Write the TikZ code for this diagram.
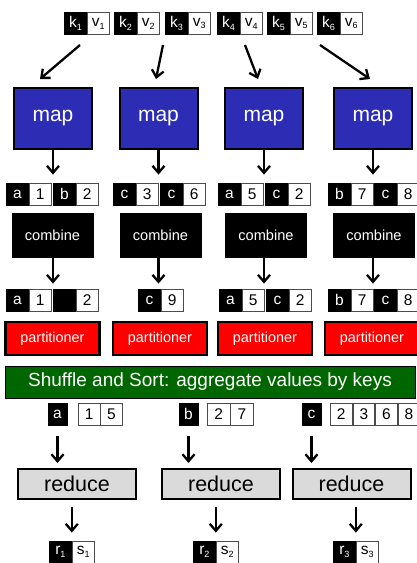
\documentclass[tikz,border=0pt]{standalone}
\usepackage{fontspec}
\setmainfont{Liberation Sans}
\usetikzlibrary{arrows.meta}
\definecolor{mapblue}{RGB}{44,44,180}
\definecolor{shgreen}{RGB}{0,102,0}
\definecolor{redgray}{RGB}{218,218,218}
\newcommand{\sbs}[1]{\raisebox{-0.35ex}{\fontsize{9}{9}\selectfont#1}}
\newcommand{\kvpair}[5]{%
  \node[kbox, anchor=west] (#1k) at (#2,#3) {#4};
  \node[vbox, anchor=west] (#1v) at (#1k.east) {#5};}
\begin{document}
\begin{tikzpicture}[x=1pt,y=-1pt,
  kbox/.style={rectangle, fill=black, draw=black, line width=0.8pt, text=white,
    minimum width=22pt, minimum height=22pt, inner sep=0pt, font=\fontsize{15.5}{15.5}\selectfont},
  vbox/.style={rectangle, fill=white, draw=black!70, line width=0.8pt, text=black,
    minimum width=22pt, minimum height=22pt, inner sep=0pt, font=\fontsize{15.5}{15.5}\selectfont},
  mapbox/.style={rectangle, fill=mapblue, draw=black, line width=2pt, text=white,
    minimum width=78pt, minimum height=61pt, inner sep=0pt, font=\fontsize{21}{21}\selectfont},
  combbox/.style={rectangle, fill=black, draw=black, text=white,
    minimum width=81pt, minimum height=44pt, inner sep=0pt, font=\fontsize{14.6}{15}\selectfont},
  partbox/.style={rectangle, fill=red, draw=black, line width=2.5pt, text=white,
    minimum width=94pt, minimum height=33pt, inner sep=0pt, font=\fontsize{14.4}{15}\selectfont},
  shufbox/.style={rectangle, fill=shgreen, draw=black, line width=1pt, text=white,
    minimum width=410pt, minimum height=32pt, inner sep=0pt, font=\fontsize{19}{19}\selectfont},
  redbox/.style={rectangle, fill=redgray, draw=black, line width=2pt, text=black,
    minimum width=118pt, minimum height=30pt, inner sep=0pt, font=\fontsize{21.5}{22}\selectfont},
  arr/.style={line width=2.3pt, -{Straight Barb[length=7pt,width=12pt]}}
]
\useasboundingbox (0,0) rectangle (417,563);

% top input pairs
\kvpair{t1}{64}{23.5}{k\sbs{1}}{v\sbs{1}}
\kvpair{t2}{114}{23.5}{k\sbs{2}}{v\sbs{2}}
\kvpair{t3}{165}{23.5}{k\sbs{3}}{v\sbs{3}}
\kvpair{t4}{217}{23.5}{k\sbs{4}}{v\sbs{4}}
\kvpair{t5}{267}{23.5}{k\sbs{5}}{v\sbs{5}}
\kvpair{t6}{317}{23.5}{k\sbs{6}}{v\sbs{6}}

% map boxes
\node[mapbox] (map1) at (53,118.5) {map};
\node[mapbox] (map2) at (158.5,118.5) {map};
\node[mapbox] (map3) at (264,118.5) {map};
\node[mapbox] (map4) at (373,118.5) {map};

% top arrows
\coordinate (ta1) at (80,45);  \coordinate (tb1) at (40,79);
\coordinate (ta2) at (163,45); \coordinate (tb2) at (156,79);
\coordinate (ta3) at (245,45); \coordinate (tb3) at (258,79);
\coordinate (ta4) at (320,45); \coordinate (tb4) at (370,79);
\draw[arr] (ta1) -- (tb1);
\draw[arr] (ta2) -- (tb2);
\draw[arr] (ta3) -- (tb3);
\draw[arr] (ta4) -- (tb4);

% map outputs
\kvpair{m1}{6}{194}{a}{1}
\kvpair{m2}{53}{194}{b}{2}
\kvpair{m3}{113}{194}{c}{3}
\kvpair{m4}{160}{194}{c}{6}
\kvpair{m5}{218}{194}{a}{5}
\kvpair{m6}{265}{194}{c}{2}
\kvpair{m7}{328}{194}{b}{7}
\kvpair{m8}{374}{194}{c}{8}

\draw[arr, shorten >=8pt] (map1.south) -- (map1.south |- m1k.north);
\draw[arr, shorten >=8pt] (map2.south) -- (map2.south |- m3k.north);
\draw[arr, shorten >=8pt] (map3.south) -- (map3.south |- m5k.north);
\draw[arr, shorten >=8pt] (map4.south) -- (map4.south |- m7k.north);

% combiners
\node[combbox] (comb1) at (52.5,235) {combine};
\node[combbox] (comb2) at (160.5,235) {combine};
\node[combbox] (comb3) at (266,235) {combine};
\node[combbox] (comb4) at (374,235) {combine};

% combiner outputs
\kvpair{c1}{6}{300}{a}{1}
\kvpair{c2}{53}{300}{}{2}
\kvpair{c3}{138}{300}{c}{9}
\kvpair{c4}{219}{300}{a}{5}
\kvpair{c5}{266}{300}{c}{2}
\kvpair{c6}{328}{300}{b}{7}
\kvpair{c7}{374}{300}{c}{8}

\draw[arr, shorten >=5pt] (comb1.south -| map1.south) -- (map1.south |- c1k.north);
\draw[arr, shorten >=5pt] (comb2.south -| map2.south) -- (map2.south |- c3k.north);
\draw[arr, shorten >=5pt] (comb3.south -| map3.south) -- (map3.south |- c4k.north);
\draw[arr, shorten >=5pt] (comb4.south -| map4.south) -- (map4.south |- c6k.north);

% partitioners
\node[partbox] (part1) at (52.5,338.5) {partitioner};
\node[partbox] (part2) at (160,338.5) {partitioner};
\node[partbox] (part3) at (265,338.5) {partitioner};
\node[partbox] (part4) at (372,338.5) {partitioner};

% shuffle
\node[shufbox] (shuf) at (210,382) {Shuffle and Sort: aggregate values by keys};

% grouped values
\node[kbox, minimum width=19pt] (ka) at (57.5,414) {a};
\node[vbox, minimum width=21.5pt, anchor=west] (va1) at (78,414) {1};
\node[vbox, minimum width=21.5pt, anchor=west] (va2) at (va1.east) {5};
\node[kbox, minimum width=19pt] (kb) at (188.5,414) {b};
\node[vbox, minimum width=22.5pt, anchor=west] (vb1) at (207,414) {2};
\node[vbox, minimum width=22.5pt, anchor=west] (vb2) at (vb1.east) {7};
\node[kbox, minimum width=19pt] (kc) at (311.5,414) {c};
\node[vbox, minimum width=21.75pt, anchor=west] (vc1) at (330,414) {2};
\node[vbox, minimum width=21.75pt, anchor=west] (vc2) at (vc1.east) {3};
\node[vbox, minimum width=21.75pt, anchor=west] (vc3) at (vc2.east) {6};
\node[vbox, minimum width=21.75pt, anchor=west] (vc4) at (vc3.east) {8};

% reducers
\node[redbox] (red1) at (77,484) {reduce};
\node[redbox] (red2) at (221,484) {reduce};
\node[redbox] (red3) at (351.5,484) {reduce};

\draw[arr, shorten <=11pt, shorten >=5pt] (ka.south) -- (ka.south |- red1.north);
\draw[arr, shorten <=11pt, shorten >=5pt] (kb.south) -- (kb.south |- red2.north);
\draw[arr, shorten <=11pt, shorten >=5pt] (kc.south) -- (kc.south |- red3.north);

% outputs
\kvpair{r1}{49}{552}{r\sbs{1}}{s\sbs{1}}
\kvpair{r2}{193}{552}{r\sbs{2}}{s\sbs{2}}
\kvpair{r3}{333}{552}{r\sbs{3}}{s\sbs{3}}

\draw[arr, shorten <=7pt, shorten >=8pt] (red1.south -| r1k.east) -- (r1k.north east);
\draw[arr, shorten <=7pt, shorten >=8pt] (red2.south -| r2k.east) -- (r2k.north east);
\draw[arr, shorten <=7pt, shorten >=8pt] (red3.south -| r3k.east) -- (r3k.north east);
\end{tikzpicture}
\end{document}
